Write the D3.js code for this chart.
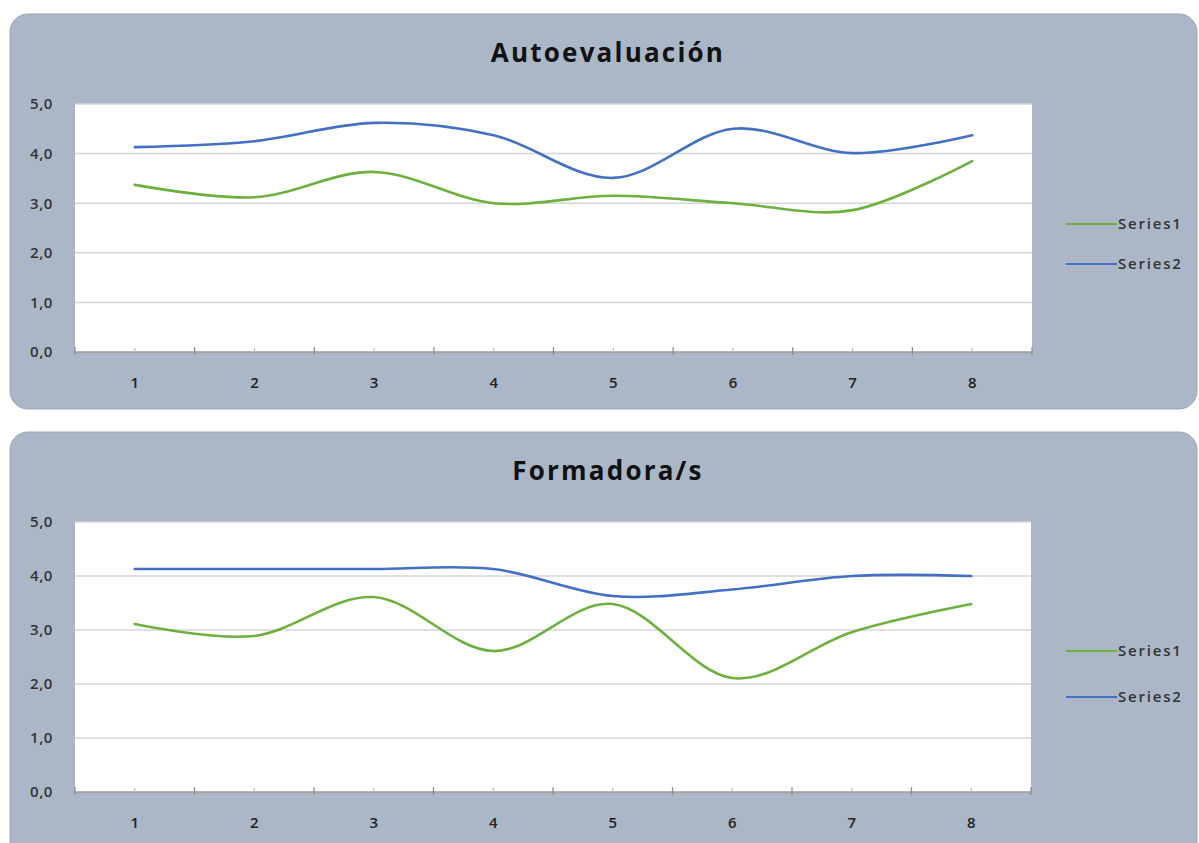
<!DOCTYPE html>
<html>
<head>
<meta charset="utf-8">
<script src="https://cdn.jsdelivr.net/npm/d3@7"></script>
<style>
  body { margin: 0; background: #fff; overflow: hidden; }
  text { font-family: "Open Sans", "DejaVu Sans", sans-serif; }
</style>
</head>
<body>
<script>
const categories = [1, 2, 3, 4, 5, 6, 7, 8]
const yTicks = [0, 1, 2, 3, 4, 5]
const seriesNames = ['Series1', 'Series2']

const autoSeries1 = [3.37, 3.12, 3.63, 3.0, 3.15, 3.0, 2.86, 3.85]
const autoSeries2 = [4.13, 4.25, 4.62, 4.37, 3.51, 4.5, 4.01, 4.37]

const formSeries1 = [3.11, 2.89, 3.61, 2.61, 3.48, 2.11, 2.96, 3.48]
const formSeries2 = [4.13, 4.13, 4.13, 4.13, 3.63, 3.75, 4.0, 4.0]

const colors = ['#6cb03e', '#4270c4']

const width = 1199
const height = 843

const svg = d3.select('body').append('svg').attr('width', width).attr('height', height)

const drawPanel = (cfg) => {
    const g = svg.append('g')

    g.append('rect')
        .attr('x', cfg.px).attr('y', cfg.py)
        .attr('width', cfg.pw).attr('height', cfg.ph)
        .attr('rx', 18).attr('ry', 18)
        .attr('fill', '#abb7c7')
        .attr('stroke', '#9aa6b6').attr('stroke-width', 1)

    g.append('text').text(cfg.title)
        .attr('x', 608).attr('y', cfg.py + 48)
        .attr('text-anchor', 'middle')
        .attr('font-size', 26).attr('font-weight', 'bold').attr('fill', '#111')
        .attr('letter-spacing', 2.2)

    const xScale = d3.scaleBand().domain(categories).range([cfg.left, cfg.right])
    const yScale = d3.scaleLinear().domain([0, 5]).range([cfg.bottom, cfg.top])

    g.append('rect')
        .attr('x', cfg.left).attr('y', cfg.top)
        .attr('width', cfg.right - cfg.left).attr('height', cfg.bottom - cfg.top)
        .attr('fill', '#fff')

    // gridlines
    g.selectAll('.grid').data(yTicks.slice(1)).enter().append('line')
        .attr('x1', cfg.left).attr('x2', cfg.right)
        .attr('y1', d => yScale(d)).attr('y2', d => yScale(d))
        .attr('stroke', '#d6d6d6').attr('stroke-width', 1.5)

    const yAxis = d3.axisLeft(yScale).tickValues(yTicks).tickSize(0).tickPadding(22)
        .tickFormat(d => d3.format('.1f')(d).replace('.', ','))
    g.append('g').attr('transform', `translate(${cfg.left},0)`).call(yAxis)
        .call(a => a.select('.domain').remove())
        .call(a => a.selectAll('text').attr('font-size', 15).attr('font-weight', 600)
            .attr('fill', '#333').attr('letter-spacing', 0.6))

    // x axis line and ticks
    g.append('line')
        .attr('x1', cfg.left).attr('x2', cfg.right)
        .attr('y1', cfg.bottom).attr('y2', cfg.bottom)
        .attr('stroke', '#a39a92').attr('stroke-width', 1.5)

    const boundaries = categories.map(c => xScale(c)).concat([cfg.right])
    g.selectAll('.tickb').data(boundaries).enter().append('line')
        .attr('x1', d => d).attr('x2', d => d)
        .attr('y1', cfg.bottom - 5).attr('y2', cfg.bottom + 3)
        .attr('stroke', '#8f877f').attr('stroke-width', 1.2)
    g.selectAll('.tickc').data(categories).enter().append('line')
        .attr('x1', d => xScale(d) + xScale.bandwidth() / 2).attr('x2', d => xScale(d) + xScale.bandwidth() / 2)
        .attr('y1', cfg.bottom - 4).attr('y2', cfg.bottom)
        .attr('stroke', '#bbb3ab').attr('stroke-width', 1.2)

    g.selectAll('.xlab').data(categories).enter().append('text')
        .text(d => d)
        .attr('x', d => xScale(d) + xScale.bandwidth() / 2)
        .attr('y', cfg.bottom + 36)
        .attr('text-anchor', 'middle')
        .attr('font-size', 15).attr('font-weight', 600).attr('fill', '#222')

    const line = d3.line()
        .x((d, i) => xScale(categories[i]) + xScale.bandwidth() / 2)
        .y(d => yScale(d))
        .curve(d3.curveCatmullRom.alpha(0))

    cfg.series.forEach((s, i) => {
        g.append('path').datum(s)
            .attr('d', line)
            .attr('fill', 'none')
            .attr('stroke', colors[i])
            .attr('stroke-width', 2.6)
            .attr('stroke-linecap', 'round')
    })

    // legend
    seriesNames.forEach((n, i) => {
        const ly = cfg.legendY[i]
        g.append('line')
            .attr('x1', 1066).attr('x2', 1117)
            .attr('y1', ly).attr('y2', ly)
            .attr('stroke', colors[i]).attr('stroke-width', 2)
        g.append('text').text(n)
            .attr('x', 1118).attr('y', ly + 5)
            .attr('font-size', 15).attr('font-weight', 600).attr('fill', '#333')
            .attr('letter-spacing', 1.8)
    })
}

drawPanel({
    title: 'Autoevaluación',
    px: 10, py: 14, pw: 1187, ph: 395,
    left: 75, right: 1032, top: 104, bottom: 352,
    series: [autoSeries1, autoSeries2],
    legendY: [224, 264]
})

drawPanel({
    title: 'Formadora/s',
    px: 10, py: 432, pw: 1187, ph: 440,
    left: 75, right: 1031, top: 522, bottom: 792,
    series: [formSeries1, formSeries2],
    legendY: [651, 697]
})
</script>
</body>
</html>
